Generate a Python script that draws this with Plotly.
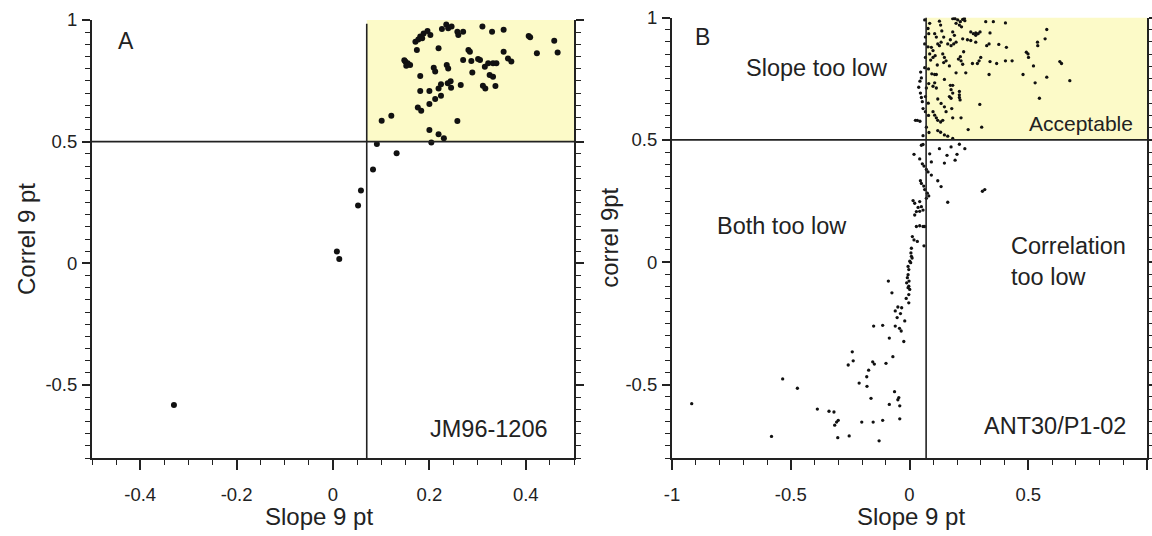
import plotly.graph_objects as go

# Panel A - JM96-1206
a_slope = [-0.330, 0.008, 0.013, 0.052, 0.058, 0.083, 0.091, 0.132, 0.101, 0.121,
           0.200, 0.219, 0.230, 0.204, 0.258, 0.176, 0.183, 0.200, 0.212, 0.224,
           0.181, 0.200, 0.219, 0.224, 0.238, 0.245, 0.265, 0.181, 0.209, 0.212,
           0.236, 0.239, 0.244, 0.150, 0.160, 0.155, 0.148, 0.152, 0.174, 0.171,
           0.181, 0.188, 0.196, 0.202, 0.177, 0.185, 0.219, 0.226, 0.235, 0.239,
           0.246, 0.258, 0.260, 0.270, 0.281, 0.284, 0.270, 0.287, 0.301, 0.305,
           0.289, 0.310, 0.315, 0.322, 0.332, 0.339, 0.325, 0.332, 0.311, 0.316,
           0.337, 0.330, 0.354, 0.354, 0.363, 0.370, 0.406, 0.409, 0.423, 0.459,
           0.466]
a_correl = [-0.582, 0.049, 0.018, 0.238, 0.299, 0.386, 0.490, 0.452, 0.586, 0.607,
            0.548, 0.530, 0.514, 0.497, 0.585, 0.640, 0.627, 0.655, 0.675, 0.689,
            0.708, 0.708, 0.719, 0.736, 0.740, 0.722, 0.733, 0.770, 0.804, 0.788,
            0.815, 0.801, 0.748, 0.829, 0.815, 0.822, 0.835, 0.812, 0.877, 0.911,
            0.932, 0.945, 0.955, 0.938, 0.920, 0.925, 0.884, 0.963, 0.982, 0.966,
            0.973, 0.952, 0.938, 0.952, 0.877, 0.870, 0.836, 0.832, 0.840, 0.836,
            0.784, 0.973, 0.808, 0.822, 0.822, 0.822, 0.774, 0.767, 0.730, 0.719,
            0.729, 0.952, 0.960, 0.870, 0.842, 0.829, 0.934, 0.929, 0.863, 0.915,
            0.866]

# Panel B - ANT30/P1-02
b_slope = [0.182, 0.192, 0.203, 0.214, 0.224, 0.233, 0.196, 0.210, 0.219, 0.189,
           0.231, 0.126, 0.131, 0.321, 0.353, 0.404, 0.085, 0.078, 0.081, 0.106,
           0.113, 0.136, 0.258, 0.269, 0.279, 0.289, 0.297, 0.279, 0.339, 0.182,
           0.189, 0.172, 0.161, 0.186, 0.196, 0.175, 0.144, 0.133, 0.126, 0.119,
           0.224, 0.244, 0.258, 0.578, 0.571, 0.539, 0.540, 0.325, 0.335, 0.376,
           0.408, 0.279, 0.228, 0.214, 0.206, 0.092, 0.099, 0.085, 0.108, 0.099,
           0.089, 0.140, 0.147, 0.144, 0.154, 0.492, 0.499, 0.501, 0.633, 0.640,
           0.339, 0.367, 0.404, 0.432, 0.300, 0.293, 0.286, 0.265, 0.217, 0.224,
           0.522, 0.168, 0.196, 0.237, 0.117, 0.335, 0.478, 0.578, 0.529, 0.675,
           0.094, 0.106, 0.113, 0.147, 0.106, 0.099, 0.113, 0.172, 0.182, 0.175,
           0.182, 0.210, 0.210, 0.210, 0.213, 0.119, 0.133, 0.168, 0.175, 0.547,
           0.296, 0.147, 0.154, 0.178, 0.217, 0.182, 0.099, 0.106, 0.113, 0.119,
           0.131, 0.140, 0.247, 0.304, 0.119, 0.131, 0.147, 0.161, 0.182,
           0.047, 0.050, 0.044, 0.039, 0.046, 0.050, 0.054, 0.057, 0.033, 0.044,
           0.025, 0.064, 0.067, 0.064, 0.067, 0.064, 0.071, 0.067, 0.067, 0.071,
           0.057, 0.078, 0.080, 0.081, 0.079, 0.080, 0.082,
           0.050, 0.057, 0.019, 0.043, 0.126, 0.175, 0.210, 0.092, 0.085, 0.158,
           0.200, 0.233, 0.147, 0.192, 0.054, 0.061, 0.071, 0.078, 0.092, 0.046,
           0.050, 0.060, 0.064, 0.075, 0.081, 0.071, 0.119, 0.133, 0.161, 0.317,
           0.307, 0.015, 0.022, 0.043, 0.036, 0.029, 0.022, 0.050, 0.057, 0.043,
           0.029, 0.043, 0.057, 0.064, 0.012, 0.019, 0.033, 0.061, 0.008, 0.006,
           0.008, 0.001, -0.006,
           0.011, 0.005, -0.003, -0.006, -0.009, -0.002, -0.012, -0.003, -0.006, 0.001,
           -0.003, -0.014, -0.003, -0.089, -0.074, -0.049, -0.033, -0.060, -0.038, -0.052,
           -0.020, -0.151, -0.113, -0.060, -0.042, -0.035, -0.085, -0.024,
           -0.241, -0.237, -0.258, -0.155, -0.148, -0.099, -0.070, -0.172, -0.180, -0.212,
           -0.179, -0.534, -0.472, -0.162, -0.063, -0.045, -0.049, -0.085, -0.041, -0.041,
           -0.917, -0.388, -0.339, -0.318, -0.300, -0.307, -0.315, -0.201, -0.153, -0.113,
           -0.581, -0.302, -0.254, -0.128]
b_correl = [0.995, 0.995, 0.990, 0.983, 0.992, 0.987, 0.976, 0.969, 0.962, 0.998,
            0.996, 0.985, 0.969, 0.983, 0.983, 0.978, 0.976, 0.955, 0.934, 0.934,
            0.920, 0.945, 0.941, 0.934, 0.937, 0.934, 0.941, 0.927, 0.937, 0.941,
            0.927, 0.909, 0.892, 0.892, 0.899, 0.885, 0.920, 0.899, 0.885, 0.892,
            0.913, 0.909, 0.906, 0.951, 0.913, 0.899, 0.885, 0.885, 0.892, 0.890,
            0.878, 0.899, 0.860, 0.840, 0.830, 0.878, 0.865, 0.851, 0.844, 0.837,
            0.826, 0.851, 0.837, 0.816, 0.823, 0.858, 0.851, 0.837, 0.820, 0.812,
            0.820, 0.812, 0.823, 0.823, 0.837, 0.823, 0.812, 0.812, 0.823, 0.809,
            0.802, 0.802, 0.774, 0.774, 0.806, 0.767, 0.767, 0.756, 0.733, 0.742,
            0.770, 0.767, 0.767, 0.747, 0.733, 0.719, 0.712, 0.723, 0.723, 0.705,
            0.691, 0.698, 0.684, 0.673, 0.663, 0.667, 0.649, 0.677, 0.670, 0.670,
            0.645, 0.635, 0.615, 0.628, 0.590, 0.590, 0.615, 0.601, 0.590, 0.580,
            0.573, 0.580, 0.542, 0.552, 0.538, 0.531, 0.520, 0.515, 0.506,
            0.777, 0.753, 0.740, 0.715, 0.691, 0.673, 0.656, 0.628, 0.580, 0.576,
            0.580, 0.990, 0.920, 0.892, 0.837, 0.795, 0.712, 0.677, 0.615, 0.552,
            0.517, 0.880, 0.790, 0.730, 0.650, 0.600, 0.530,
            0.478, 0.481, 0.441, 0.422, 0.464, 0.471, 0.482, 0.410, 0.443, 0.437,
            0.441, 0.464, 0.405, 0.417, 0.402, 0.393, 0.379, 0.369, 0.356, 0.333,
            0.322, 0.311, 0.297, 0.282, 0.271, 0.261, 0.333, 0.309, 0.245, 0.297,
            0.290, 0.252, 0.241, 0.248, 0.224, 0.207, 0.193, 0.227, 0.213, 0.208,
            0.146, 0.149, 0.146, 0.146, 0.105, 0.091, 0.085, 0.067, 0.057, 0.038,
            0.024, 0.004, -0.017,
            0.017, -0.002, -0.030, -0.051, -0.063, -0.077, -0.084, -0.098, -0.104, -0.111,
            -0.132, -0.148, -0.166, -0.077, -0.125, -0.183, -0.186, -0.199, -0.210, -0.226,
            -0.240, -0.261, -0.258, -0.261, -0.270, -0.281, -0.310, -0.324,
            -0.366, -0.403, -0.420, -0.407, -0.416, -0.413, -0.386, -0.441, -0.468, -0.494,
            -0.507, -0.477, -0.515, -0.556, -0.529, -0.553, -0.562, -0.581, -0.587, -0.640,
            -0.578, -0.600, -0.609, -0.612, -0.646, -0.653, -0.666, -0.653, -0.653, -0.646,
            -0.712, -0.717, -0.710, -0.730]

# thresholds
slope_min = 0.07
correl_min = 0.5

# ticks
a_xticks = [-0.4, -0.2, 0, 0.2, 0.4]
a_xlabels = ['-0.4', '-0.2', '0', '0.2', '0.4']
b_xticks = [-1, -0.5, 0, 0.5, 1]
b_xlabels = ['-1', '-0.5', '0', '0.5', '1']
yticks = [-0.5, 0, 0.5, 1]
ylabels = ['-0.5', '0', '0.5', '1']

INK = '#222222'
YELLOW = '#fcfac8'
FONT = 'Liberation Sans, Arial, sans-serif'


def axis(ticks, labels, minor_step, rng, domain, anchor, is_y=False, title=None, standoff=0):
    ax = dict(
        domain=domain, range=rng, anchor=anchor,
        tickmode='array', tickvals=ticks, ticktext=labels,
        showline=True, linecolor=INK, linewidth=2, mirror='ticks' if is_y else False,
        ticks='outside', ticklen=8 if is_y else 10, tickwidth=1.8, tickcolor=INK,
        ticklabelstandoff=1 if is_y else 9,
        minor=dict(tickmode='linear', tick0=0, dtick=minor_step, ticks='outside',
                   ticklen=5, tickwidth=1.4, tickcolor=INK, showgrid=False),
        showgrid=False, zeroline=False, automargin=False,
        tickfont=dict(size=18.5, color=INK, family=FONT),
    )
    if title:
        ax['title'] = dict(text=title, standoff=standoff, font=dict(size=24, color=INK, family=FONT))
    return ax


fig = go.Figure()
fig.add_trace(go.Scatter(x=a_slope, y=a_correl, mode='markers', xaxis='x', yaxis='y',
                         marker=dict(size=6, color='#111'), showlegend=False))
fig.add_trace(go.Scatter(x=b_slope, y=b_correl, mode='markers', xaxis='x2', yaxis='y2',
                         marker=dict(size=3.3, color='#111'), showlegend=False))

shapes = []
for xr, yr, x0, x1, vtop in [('x', 'y', -0.5, 0.5, 0.985), ('x2', 'y2', -1, 1, 1)]:
    shapes.append(dict(type='rect', xref=xr, yref=yr, x0=slope_min, x1=x1, y0=correl_min, y1=1,
                       fillcolor=YELLOW, line=dict(width=0), layer='below'))
    shapes.append(dict(type='line', xref=xr, yref=yr, x0=x0, x1=x1, y0=correl_min, y1=correl_min,
                       line=dict(color=INK, width=1.6)))
    shapes.append(dict(type='line', xref=xr, yref=yr, x0=slope_min, x1=slope_min, y0=-0.8, y1=vtop,
                       line=dict(color=INK, width=1.6)))


def note(text, x, y, xr, yr, anchor='left', size=23.5):
    return dict(text=text, x=x, y=y, xref=xr, yref=yr, xanchor=anchor, yanchor='middle',
                showarrow=False, align='left', font=dict(size=size, color=INK, family=FONT))


xtitle_y = 1 - 516 / 536
annotations = [
    note('A', -0.45, 0.915, 'x', 'y', size=23),
    note('JM96-1206', 0.45, -0.68, 'x', 'y', anchor='right'),
    note('B', -0.91, 0.92, 'x2', 'y2', size=23),
    note('Slope too low', -0.39, 0.795, 'x2', 'y2', anchor='center'),
    note('Acceptable', 0.95, 0.565, 'x2', 'y2', anchor='right', size=21),
    note('Both too low', -0.535, 0.146, 'x2', 'y2', anchor='center'),
    note('Correlation<br>too low', 0.42, 0.005, 'x2', 'y2'),
    note('ANT30/P1-02', 0.92, -0.669, 'x2', 'y2', anchor='right'),
    # x axis titles
    note('Slope 9 pt', -0.03, xtitle_y, 'x', 'paper', anchor='center', size=24),
    note('Slope 9 pt', 0.005, xtitle_y, 'x2', 'paper', anchor='center', size=24),
]

fig.update_layout(
    width=1152, height=536,
    margin=dict(l=0, r=0, t=0, b=0),
    paper_bgcolor='white', plot_bgcolor='white',
    font=dict(family=FONT, color=INK),
    xaxis=axis(a_xticks, a_xlabels, 0.05, [-0.5, 0.5], [92 / 1152, 574 / 1152], 'y'),
    yaxis=axis(yticks, ylabels, 0.05, [-0.8, 1], [1 - 458 / 536, 1 - 20 / 536], 'x',
               is_y=True, title='Correl 9 pt', standoff=3),
    xaxis2=axis(b_xticks, b_xlabels, 0.1, [-1, 1], [672 / 1152, 1147 / 1152], 'y2'),
    yaxis2=axis(yticks, ylabels, 0.05, [-0.8, 1], [1 - 458 / 536, 1 - 17.5 / 536], 'x2',
                is_y=True, title='correl 9pt', standoff=0),
    shapes=shapes,
    annotations=annotations,
)

# the page's default body margin would shift the figure by 8px
fig.write_html('out.html', config={'displayModeBar': False},
               post_script="document.body.style.margin='0px';")
